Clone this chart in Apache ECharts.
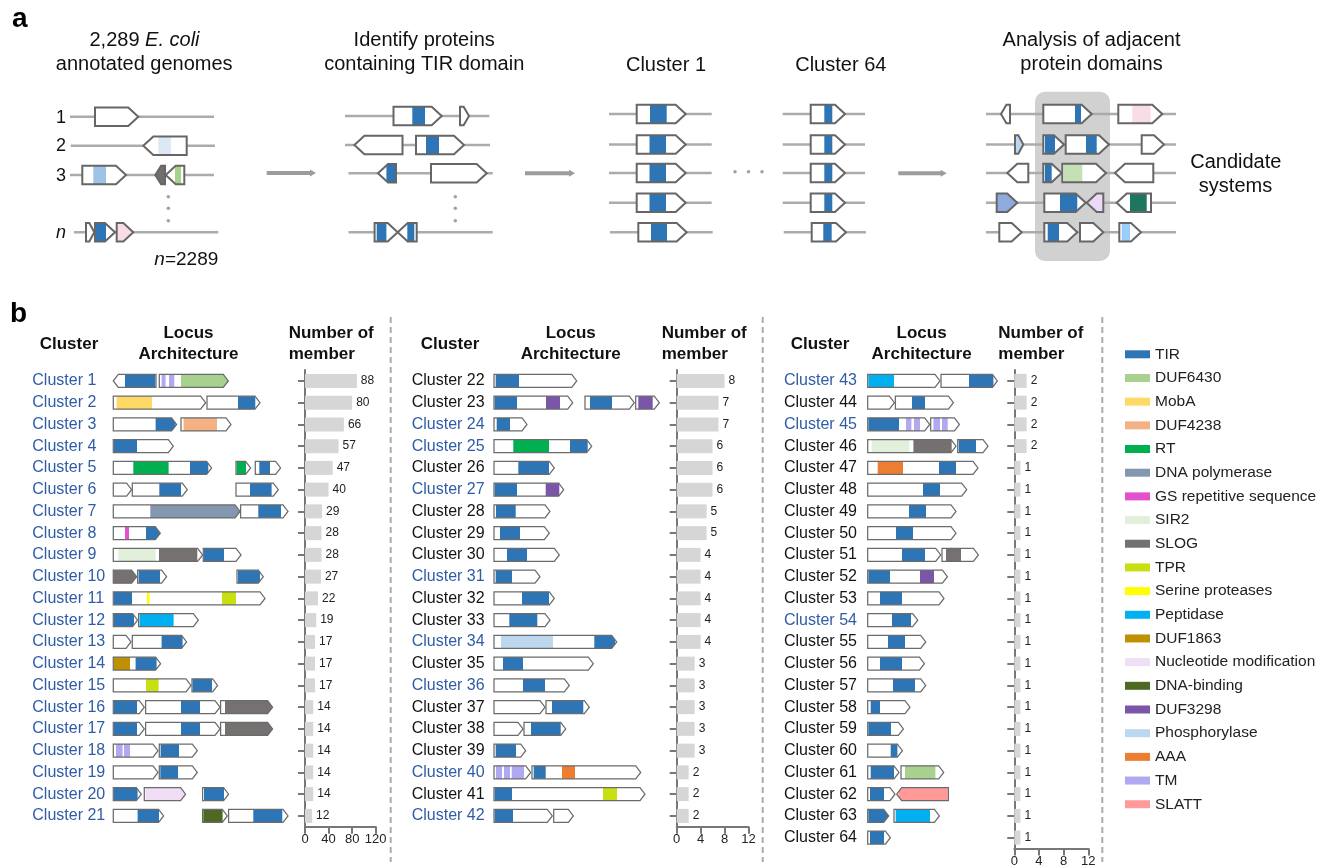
<!DOCTYPE html>
<html><head><meta charset="utf-8">
<script src="https://cdn.jsdelivr.net/npm/echarts@6/dist/echarts.min.js"></script>
<style>html,body{margin:0;padding:0;background:#fff}#c{width:1334px;height:867px}</style>
</head><body><div id="c"></div>
<script>
const FONT = 'Liberation Sans, Arial, Helvetica, sans-serif';
const BLUE = '#2f5ca6';

// ---------------- Panel b data ----------------
const clustersA = ['Cluster 1','Cluster 2','Cluster 3','Cluster 4','Cluster 5','Cluster 6','Cluster 7','Cluster 8','Cluster 9','Cluster 10','Cluster 11','Cluster 12','Cluster 13','Cluster 14','Cluster 15','Cluster 16','Cluster 17','Cluster 18','Cluster 19','Cluster 20','Cluster 21'];
const clustersB = ['Cluster 22','Cluster 23','Cluster 24','Cluster 25','Cluster 26','Cluster 27','Cluster 28','Cluster 29','Cluster 30','Cluster 31','Cluster 32','Cluster 33','Cluster 34','Cluster 35','Cluster 36','Cluster 37','Cluster 38','Cluster 39','Cluster 40','Cluster 41','Cluster 42'];
const clustersC = ['Cluster 43','Cluster 44','Cluster 45','Cluster 46','Cluster 47','Cluster 48','Cluster 49','Cluster 50','Cluster 51','Cluster 52','Cluster 53','Cluster 54','Cluster 55','Cluster 56','Cluster 57','Cluster 58','Cluster 59','Cluster 60','Cluster 61','Cluster 62','Cluster 63','Cluster 64'];

const membersA = [88,80,66,57,47,40,29,28,28,27,22,19,17,17,17,14,14,14,14,14,12];
const membersB = [8,7,7,6,6,6,5,5,4,4,4,4,4,3,3,3,3,3,2,2,2];
const membersC = [2,2,2,2,1,1,1,1,1,1,1,1,1,1,1,1,1,1,1,1,1,1];

const highlighted = ['Cluster 1','Cluster 2','Cluster 3','Cluster 4','Cluster 5','Cluster 6','Cluster 7','Cluster 8','Cluster 9','Cluster 10','Cluster 11','Cluster 12','Cluster 13','Cluster 14','Cluster 15','Cluster 16','Cluster 17','Cluster 18','Cluster 19','Cluster 20','Cluster 21','Cluster 24','Cluster 25','Cluster 27','Cluster 31','Cluster 34','Cluster 36','Cluster 40','Cluster 42','Cluster 43','Cluster 45','Cluster 54'];

const domainTypes = ['TIR','DUF6430','MobA','DUF4238','RT','DNA polymerase','GS repetitive sequence','SIR2','SLOG','TPR','Serine proteases','Peptidase','DUF1863','Nucleotide modification','DNA-binding','DUF3298','Phosphorylase','AAA','TM','SLATT'];
const domainColors = ['#2e75b6','#a9d18e','#ffd966','#f4b183','#00b050','#8497b0','#e24fcf','#e2efda','#767171','#c8e012','#ffff00','#00b0f0','#bf9000','#f0ddf6','#4e6a22','#7b55a8','#bdd7ee','#ed7d31','#b0a8f0','#ff9a98'];

// gene: [start, end, strand, [[domainStart, domainEnd, type], ...]]
const lociA = [
 [[0,42.7,-1,[[11.7,42,'TIR']]],[46,115,1,[[48.3,52.3,'TM'],[55.7,61,'TM'],[67.7,115,'DUF6430']]]],
 [[0,92.3,1,[[3.3,38.7,'MobA']]],[93.7,146.7,1,[[124.7,142,'TIR']]]],
 [[0,63.3,1,[[42.3,62.3,'TIR']]],[67.7,117.7,1,[[70.3,103.7,'DUF4238']]]],
 [[0,60,1,[[0.7,23.7,'TIR']]]],
 [[0,98.3,1,[[20,55.3,'RT'],[76.7,95,'TIR']]],[122.7,137.3,1,[[123.3,132.7,'RT']]],[142,167.3,1,[[146,156.7,'TIR']]]],
 [[0,18.3,1,[]],[19,74,1,[[46,67.7,'TIR']]],[122.7,165,1,[[136.7,158.3,'TIR']]]],
 [[0,126.7,1,[[37,126.7,'DNA polymerase']]],[127.3,174.7,1,[[145,167.7,'TIR']]]],
 [[0,47,1,[[11.7,15.7,'GS repetitive sequence'],[32.7,47,'TIR']]]],
 [[0,89.3,1,[[5,42.3,'SIR2'],[45.7,84,'SLOG']]],[90,127.7,1,[[90.7,110.7,'TIR']]]],
 [[0,23.3,1,[[0.3,23.3,'SLOG']]],[24.3,53.3,1,[[25.3,46.7,'TIR']]],[123.7,150,1,[[124.7,146.7,'TIR']]]],
 [[0,151.7,1,[[0.7,18.7,'TIR'],[33.7,36.3,'Serine proteases'],[108.7,122.7,'TPR']]]],
 [[0,24.3,1,[[0.7,20.7,'TIR']]],[25.3,85,1,[[26.3,60.3,'Peptidase']]]],
 [[0,17.7,1,[]],[19,73.3,1,[[48.3,69.3,'TIR']]]],
 [[0,47.3,1,[[0.7,16.7,'DUF1863'],[22.3,43.3,'TIR']]]],
 [[0,77.7,1,[[32.7,45.3,'TPR']]],[78.7,104.3,1,[[79.3,98.7,'TIR']]]],
 [[0,31,1,[[0.7,23.7,'TIR']]],[32.3,106.7,1,[[67.7,86.7,'TIR']]],[107.3,159.3,1,[[111.7,159.3,'SLOG']]]],
 [[0,31,1,[[0.7,23.7,'TIR']]],[32.3,106.7,1,[[67.7,86.7,'TIR']]],[107.3,159.3,1,[[111.7,159.3,'SLOG']]]],
 [[0,44.7,1,[[2.7,9.3,'TM'],[10.7,16.7,'TM']]],[46,84,1,[[47.3,65.7,'TIR']]]],
 [[0,44.7,1,[]],[46,84,1,[[47,64.7,'TIR']]]],
 [[0,28,1,[[0.7,24.3,'TIR']]],[31,72.3,1,[[32.3,72.3,'Nucleotide modification']]],[89.3,115.3,1,[[90.7,110.7,'TIR']]]],
 [[0,50.3,1,[[24.3,45.7,'TIR']]],[89.3,114,1,[[90,109.3,'DNA-binding']]],[115.3,174.7,1,[[140,169,'TIR']]]]
];
const lociB = [
 [[0,82.7,1,[[1.7,25,'TIR']]]],
 [[0,78.7,1,[[0.7,23,'TIR'],[52,66,'DUF3298']]],[91,140.3,1,[[96,118,'TIR']]],[141.7,165.3,1,[[144.3,158.7,'DUF3298']]]],
 [[0,33,1,[[2.7,16,'TIR']]]],
 [[0,97.7,1,[[19.3,55,'RT'],[76,93.7,'TIR']]]],
 [[0,60.3,1,[[24.3,55,'TIR']]]],
 [[0,69.7,1,[[0.7,23,'TIR'],[51.7,65.3,'DUF3298']]]],
 [[0,56,1,[[2,21.7,'TIR']]]],
 [[0,55.3,1,[[6,26,'TIR']]]],
 [[0,65.3,1,[[13,33,'TIR']]]],
 [[0,46,1,[[1.7,18,'TIR']]]],
 [[0,60.3,1,[[28,55,'TIR']]]],
 [[0,56,1,[[15.3,43.3,'TIR']]]],
 [[0,122.7,1,[[7,59,'Phosphorylase'],[100.3,121,'TIR']]]],
 [[0,99.3,1,[[9,29,'TIR']]]],
 [[0,75.3,1,[[29,51,'TIR']]]],
 [[0,51,1,[]],[52,95.3,1,[[58,89.3,'TIR']]]],
 [[0,29,1,[]],[30,71.7,1,[[37,66.7,'TIR']]]],
 [[0,31.7,1,[[1.7,22,'TIR']]]],
 [[0,36.7,1,[[2,8,'TM'],[10,16,'TM'],[17.7,30,'TM']]],[38,146.7,1,[[39.7,51.7,'TIR'],[68,81,'AAA']]]],
 [[0,151,1,[[0.7,18,'TIR'],[109,123,'TPR']]]],
 [[0,58.3,1,[[0.7,19,'TIR']]],[59.7,79.3,1,[]]]
];
const lociC = [
 [[0,72.3,1,[[0.7,26.3,'Peptidase']]],[73.3,129.7,1,[[101.3,125.7,'TIR']]]],
 [[0,26.7,1,[]],[27.7,85.7,1,[[44.3,57.3,'TIR']]]],
 [[0,62,1,[[0.7,31.3,'TIR'],[38.3,43.7,'TM'],[46.3,52.3,'TM']]],[63,91.7,1,[[65.7,72.3,'TM'],[74.3,80,'TM']]]],
 [[0,88.3,1,[[4,41.7,'SIR2'],[45.7,84,'SLOG']]],[90,120.3,1,[[91,108.3,'TIR']]]],
 [[0,110.3,1,[[10,35.3,'AAA'],[71.3,88.3,'TIR']]]],
 [[0,99,1,[[55.3,72.3,'TIR']]]],
 [[0,88.3,1,[[41.3,58.3,'TIR']]]],
 [[0,88.3,1,[[28.3,45.3,'TIR']]]],
 [[0,73,1,[[34.3,57.3,'TIR']]],[74.3,110.7,1,[[78.3,93.3,'SLOG']]]],
 [[0,79.7,1,[[0.7,22.3,'TIR'],[52.3,66.3,'DUF3298']]]],
 [[0,76.3,1,[[12.3,34.3,'TIR']]]],
 [[0,50,1,[[24.3,43.3,'TIR']]]],
 [[0,58,1,[[20.3,37.3,'TIR']]]],
 [[0,56.7,1,[[12.3,34.3,'TIR']]]],
 [[0,58,1,[[25.3,47.3,'TIR']]]],
 [[0,42.3,1,[[3,12.3,'TIR']]]],
 [[0,35.7,1,[[0.7,23.3,'TIR']]]],
 [[0,34.7,1,[[23,29.7,'TIR']]]],
 [[0,31.3,1,[[3,26.3,'TIR']]],[33.3,76,1,[[37.3,67.7,'DUF6430']]]],
 [[0,27.3,1,[[2.3,16.3,'TIR']]],[29,80.7,-1,[[30.7,80,'SLATT']]]],
 [[0,21,1,[[0.7,20.3,'TIR']]],[26.3,71.7,1,[[28,62.3,'Peptidase']]]],
 [[0,22.7,1,[[2.3,16.3,'TIR']]]]
];

// ---------------- Panel a data ----------------
const panelATracks = [
 [70,214,116.7],[70.7,215,145.7],[70,214,175],[74,218.3,232.3],
 [345,489.3,116],[345,490,145],[348.5,492.7,173.3],[348.5,492.7,232.3],
 [609,711.7,114],[609,711.7,144.5],[609,711.7,173],[609,711.7,202.7],[610,712.7,232.3],
 [782.7,865,114],[782.7,865,144.5],[782.7,865,173],[782.7,865,202.7],[783.7,866,232.3],
 [986,1176,114],[986,1176,144.5],[986,1176,173],[986,1176,202.7],[986,1176,232.3]
];
// [start, end, track, strand, fill, domainStart, domainEnd, domainColor]
const panelAGenes = [
 [95,138.3,116.7,1,null],
 [143.3,186.7,145.7,-1,null,158.3,171,'pale'],
 [82.3,126,175,1,null,93.3,106,'sky'],
 [155.3,165,175,-1,'slog'],
 [165.7,184.3,175,-1,null,175,181,'duf'],
 [86,94.3,232.3,1,null],
 [95,115,232.3,1,null,95.7,106,'tir'],
 [116.7,133.3,232.3,1,null,117.3,133.3,'pink'],
 [393.5,441.7,116,1,null,412.3,425,'tir'],
 [460,469,116,1,null],
 [354.4,402.5,145,-1,null],
 [416,464,145,1,null,426,439,'tir'],
 [378,396,173.3,-1,null,386.4,396,'tir'],
 [431,486.7,173.3,1,null],
 [374.6,397.7,232.3,1,null,376.7,386.4,'tir'],
 [397.7,416.7,232.3,-1,null,407.3,414.3,'tir'],
 [636.7,685.7,114,1,null,650,666.7,'tir'],
 [636.7,685.7,144.5,1,null,649.5,666,'tir'],
 [636.7,685.7,173,1,null,649.5,666,'tir'],
 [636.7,685.7,202.7,1,null,649.5,666,'tir'],
 [638.3,686.7,232.3,1,null,651,667,'tir'],
 [810.7,845,114,1,null,824.3,832.3,'tir'],
 [810.7,845,144.5,1,null,824.3,832.3,'tir'],
 [810.7,845,173,1,null,824.3,832.3,'tir'],
 [810.7,845,202.7,1,null,824.3,832.3,'tir'],
 [811.7,846,232.3,1,null,823.3,831.7,'tir'],
 [1001,1010,114,-1,null],
 [1043.3,1091.7,114,1,null,1075,1081,'tir'],
 [1118.3,1162.3,114,1,null,1132.3,1150.7,'pink'],
 [1015,1023.3,144.5,1,'ltblue'],
 [1043.3,1064,144.5,1,null,1045,1055,'tir'],
 [1065.7,1109,144.5,1,null,1086,1096.7,'tir'],
 [1141.7,1164,144.5,1,null],
 [1007.3,1028.3,173,-1,null],
 [1043.3,1061.7,173,1,null,1045,1051.7,'tir'],
 [1062.3,1106,173,1,null,1064,1082.3,'sir'],
 [1115,1153.3,173,-1,null],
 [996.7,1017.3,202.7,1,'peri'],
 [1044.3,1085.7,202.7,1,null,1060,1077.3,'tir'],
 [1086.7,1103.3,202.7,-1,'lav'],
 [1116.7,1151,202.7,-1,null,1130,1146.7,'teal'],
 [999.3,1021.7,232.3,1,null],
 [1044.3,1077.3,232.3,1,null,1047.7,1059,'tir'],
 [1080,1103.3,232.3,1,null],
 [1119.3,1141,232.3,1,null,1121.7,1130,'azure']
];
const panelAColors = {pale:'#dce9f5', sky:'#9dc3e6', slog:'#6f6f6f', duf:'#a9d18e', pink:'#f9dde5', tir:'#2e75b6', ltblue:'#bdd7ee', sir:'#c5e0b4', peri:'#8faadc', lav:'#ebdaf7', teal:'#1e7560', azure:'#9bcdfb'};
const panelAArrows = [[266.7,316,173],[525,575,173.3],[898.3,946.7,173.3]];
const panelADots = [[168.3,196.7],[168.3,208.3],[168.3,220.7],[455.3,196.7],[455.3,208.3],[455.3,220.7],[735,171.7],[748.5,171.7],[762,171.7]];
const panelABox = [[1035,1110,91.7,261]];

// ---------------- geometry helpers ----------------
function arrowShape(p0, p1, cy, H, head, dir) {
  const h = Math.min(head, (p1 - p0) * 0.6);
  return dir > 0
    ? [[p0, cy - H], [p1 - h, cy - H], [p1, cy], [p1 - h, cy + H], [p0, cy + H]]
    : [[p0, cy], [p0 + h, cy - H], [p1, cy - H], [p1, cy + H], [p0 + h, cy + H]];
}
function domainShape(q0, q1, p0, p1, cy, H, head, dir) {
  q0 = Math.max(q0, p0); q1 = Math.min(q1, p1);
  const h = Math.min(head, (p1 - p0) * 0.6);
  const bk = dir > 0 ? p1 - h : p0 + h;
  const hAt = x => dir > 0 ? (x <= bk ? H : H * (p1 - x) / h) : (x >= bk ? H : H * (x - p0) / h);
  const xs = [q0]; if (bk > q0 && bk < q1) xs.push(bk); xs.push(q1);
  const top = xs.map(x => [x, cy - hAt(x)]);
  const bot = xs.slice().reverse().map(x => [x, cy + hAt(x)]);
  return top.concat(bot);
}

const GH = 6.5, GHEAD = 5;
function columnSeries(loci, k) {
  const ax = k + 1;
  const genes = [];
  loci.forEach((gs, row) => gs.forEach(g => genes.push([g[0], g[1], row, g[2]])));
  const geneRender = (fill) => (p, api) => {
    const g = genes[p.dataIndex];
    const a = api.coord([g[0], g[2]]), b = api.coord([g[1], g[2]]);
    return {type: 'polygon', shape: {points: arrowShape(a[0], b[0], a[1], GH, GHEAD, g[3])},
      style: fill ? {fill: '#fff', stroke: null} : {fill: null, stroke: '#6b6b6b', lineWidth: 1.25}};
  };
  const out = [];
  out.push({type: 'custom', name: 'genes' + k, xAxisIndex: ax, yAxisIndex: ax, z: 2, silent: true,
    data: genes, encode: {x: [0, 1], y: 2}, renderItem: geneRender(true)});
  domainTypes.forEach((t, ti) => {
    const items = [];
    loci.forEach((gs, row) => gs.forEach(g => g[3].forEach(d => {
      if (d[2] === t) items.push([d[0], d[1], row, g[0], g[1], g[2]]);
    })));
    if (!items.length) return;
    out.push({type: 'custom', name: t, xAxisIndex: ax, yAxisIndex: ax, z: 3, silent: true,
      itemStyle: {color: domainColors[ti]}, data: items, encode: {x: [0, 1], y: 2},
      renderItem: (p, api) => {
        const d = items[p.dataIndex];
        const q0 = api.coord([d[0], d[2]]), q1 = api.coord([d[1], d[2]]);
        const g0 = api.coord([d[3], d[2]]), g1 = api.coord([d[4], d[2]]);
        return {type: 'polygon', shape: {points: domainShape(q0[0], q1[0], g0[0], g1[0], q0[1], GH, GHEAD, d[5])},
          style: {fill: domainColors[ti]}};
      }});
  });
  out.push({type: 'custom', name: 'outline' + k, xAxisIndex: ax, yAxisIndex: ax, z: 4, silent: true,
    data: genes, encode: {x: [0, 1], y: 2}, renderItem: geneRender(false)});
  return out;
}

// ---------------- layout ----------------
const ROW = 21.75, TOP = 370;
const archGrids = [
  {left: 113.3, width: 180, rows: clustersA.length, cats: clustersA, margin: 81},
  {left: 494, width: 180, rows: clustersB.length, cats: clustersB, margin: 82.3},
  {left: 867.7, width: 140, rows: clustersC.length, cats: clustersC, margin: 83.7}
];
const barGrids = [
  {left: 305, width: 70.7, max: 120, interval: 40, cats: clustersA, vals: membersA},
  {left: 676.7, width: 71.7, max: 12, interval: 4, cats: clustersB, vals: membersB},
  {left: 1014.3, width: 74, max: 12, interval: 4, cats: clustersC, vals: membersC}
];

const grids = [{left: 0, top: 0, width: 1334, height: 280, outerBoundsMode: 'none'}];
const xAxes = [{gridIndex: 0, type: 'value', min: 0, max: 1334, show: false}];
const yAxes = [{gridIndex: 0, type: 'value', min: 0, max: 280, inverse: true, show: false}];
archGrids.forEach((g, i) => {
  grids.push({left: g.left, top: TOP, width: g.width, height: g.rows * ROW, outerBoundsMode: 'none'});
  xAxes.push({gridIndex: i + 1, type: 'value', min: 0, max: g.width, show: false});
  yAxes.push({gridIndex: i + 1, type: 'category', data: g.cats, inverse: true,
    axisLine: {show: false}, axisTick: {show: false}, splitLine: {show: false},
    axisLabel: {show: true, align: 'left', margin: g.margin, fontSize: 16, fontFamily: FONT,
      color: (v) => highlighted.indexOf(v) >= 0 ? BLUE : '#141414'}});
});
const AXC = '#777';
barGrids.forEach((g, i) => {
  grids.push({left: g.left, top: TOP, width: g.width, height: g.cats.length * ROW, outerBoundsMode: 'none'});
  xAxes.push({gridIndex: i + 4, type: 'value', min: 0, max: g.max, interval: g.interval,
    axisLine: {show: true, lineStyle: {color: AXC, width: 2}},
    axisTick: {show: true, length: 7, lineStyle: {color: AXC, width: 2}},
    axisLabel: {fontSize: 13, color: '#222', fontFamily: FONT, margin: 6},
    splitLine: {show: false}});
  yAxes.push({gridIndex: i + 4, type: 'category', data: g.cats, inverse: true,
    axisLine: {show: true, lineStyle: {color: AXC, width: 2}},
    axisTick: {show: true, alignWithLabel: true, length: 7, lineStyle: {color: AXC, width: 2}},
    axisLabel: {show: true, formatter: () => ''}, splitLine: {show: false}});
});

const series = [];
// panel a
series.push({type: 'custom', name: 'box', xAxisIndex: 0, yAxisIndex: 0, z: 1, silent: true, data: panelABox,
  renderItem: (p, api) => {
    const b = panelABox[p.dataIndex];
    const a0 = api.coord([b[0], b[2]]), a1 = api.coord([b[1], b[3]]);
    return {type: 'rect', shape: {x: a0[0], y: a0[1], width: a1[0] - a0[0], height: a1[1] - a0[1], r: 10}, style: {fill: '#d2d1d1'}};
  }});
series.push({type: 'custom', name: 'tracks', xAxisIndex: 0, yAxisIndex: 0, z: 2, silent: true, data: panelATracks,
  renderItem: (p, api) => {
    const t = panelATracks[p.dataIndex];
    const a = api.coord([t[0], t[2]]), b = api.coord([t[1], t[2]]);
    return {type: 'line', shape: {x1: a[0], y1: a[1], x2: b[0], y2: b[1]}, style: {stroke: '#ababab', lineWidth: 2.5}};
  }});
series.push({type: 'custom', name: 'flow', xAxisIndex: 0, yAxisIndex: 0, z: 2, silent: true, data: panelAArrows,
  renderItem: (p, api) => {
    const t = panelAArrows[p.dataIndex];
    const a = api.coord([t[0], t[2]]), b = api.coord([t[1], t[2]]);
    return {type: 'group', children: [
      {type: 'line', shape: {x1: a[0], y1: a[1], x2: b[0] - 4, y2: b[1]}, style: {stroke: '#9c9c9c', lineWidth: 4}},
      {type: 'polygon', shape: {points: [[b[0] - 6, b[1] - 3.5], [b[0], b[1]], [b[0] - 6, b[1] + 3.5]]}, style: {fill: '#9c9c9c'}}
    ]};
  }});
series.push({type: 'custom', name: 'genesA', xAxisIndex: 0, yAxisIndex: 0, z: 3, silent: true, data: panelAGenes.map(g => [g[0], g[1], g[2]]),
  renderItem: (p, api) => {
    const g = panelAGenes[p.dataIndex];
    const a = api.coord([g[0], g[2]]), b = api.coord([g[1], g[2]]);
    const H = 9.2, HEAD = 10;
    const kids = [{type: 'polygon', shape: {points: arrowShape(a[0], b[0], a[1], H, HEAD, g[3])},
      style: {fill: g[4] ? panelAColors[g[4]] : '#fff'}}];
    if (g[5] != null) {
      const q0 = api.coord([g[5], g[2]]), q1 = api.coord([g[6], g[2]]);
      kids.push({type: 'polygon', shape: {points: domainShape(q0[0], q1[0], a[0], b[0], a[1], H, HEAD, g[3])},
        style: {fill: panelAColors[g[7]]}});
    }
    kids.push({type: 'polygon', shape: {points: arrowShape(a[0], b[0], a[1], H, HEAD, g[3])},
      style: {fill: null, stroke: '#666', lineWidth: 2}});
    return {type: 'group', children: kids};
  }});
series.push({type: 'scatter', name: 'dots', xAxisIndex: 0, yAxisIndex: 0, silent: true, data: panelADots,
  symbolSize: 3.5, itemStyle: {color: '#8a8a8a'}});

// panel b
series.push(...columnSeries(lociA, 0), ...columnSeries(lociB, 1), ...columnSeries(lociC, 2));
barGrids.forEach((g, i) => {
  series.push({type: 'bar', name: 'members' + i, xAxisIndex: i + 4, yAxisIndex: i + 4, data: g.vals,
    barWidth: 14, silent: true, itemStyle: {color: '#d6d6d6'},
    label: {show: true, position: 'right', distance: 4, fontSize: 12, color: '#222', fontFamily: FONT}});
});

// ---------------- text ----------------
function txt(text, x, y, size, opt) {
  opt = opt || {};
  return {type: 'text', x: x, y: y, silent: true, style: Object.assign({
    text: text, fontSize: size, fontFamily: FONT, fill: opt.fill || '#111',
    fontWeight: opt.bold ? 'bold' : 'normal', fontStyle: opt.italic ? 'italic' : 'normal',
    textAlign: opt.align || 'center', textVerticalAlign: 'middle',
    align: opt.align || 'center', verticalAlign: 'middle'}, opt.rich ? {rich: opt.rich} : {})};
}
const ital = {i: {fontStyle: 'italic', fontSize: 20, fontFamily: FONT, fill: '#111'}};
const graphics = [
  txt('a', 12, 19, 28, {bold: true, align: 'left', fill: '#000'}),
  txt('2,289 {i|E. coli}', 144.5, 40, 20, {rich: ital}),
  txt('annotated genomes', 144.2, 64, 20),
  txt('Identify proteins', 424.2, 40, 20),
  txt('containing TIR domain', 424.2, 64, 20),
  txt('Cluster 1', 666, 65, 20),
  txt('Cluster 64', 840.8, 65, 20),
  txt('Analysis of adjacent', 1091.5, 40, 20),
  txt('protein domains', 1091.5, 64, 20),
  txt('Candidate', 1235.8, 162, 20),
  txt('systems', 1235.5, 186, 20),
  txt('1', 61, 117.7, 18), txt('2', 61, 146, 18), txt('3', 61, 175.7, 18),
  txt('n', 61, 233, 18, {italic: true}),
  txt('{j|n}=2289', 186.3, 260, 19, {rich: {j: {fontStyle: 'italic', fontSize: 19, fontFamily: FONT, fill: '#111'}}}),
  txt('b', 10, 314, 28, {bold: true, align: 'left', fill: '#000'})
];
[[69, 188.5, 288.7], [450, 570.7, 661.7], [820, 921.6, 998.3]].forEach(c => {
  graphics.push(txt('Cluster', c[0], 344, 17, {bold: true}));
  graphics.push(txt('Locus', c[1], 333.3, 17, {bold: true}));
  graphics.push(txt('Architecture', c[1], 354, 17, {bold: true}));
  graphics.push(txt('Number of', c[2], 333.3, 17, {bold: true, align: 'left'}));
  graphics.push(txt('member', c[2], 354, 17, {bold: true, align: 'left'}));
});
[390.7, 762.7, 1102.3].forEach(x => graphics.push({type: 'line', silent: true,
  shape: {x1: x, y1: 317, x2: x, y2: 862}, style: {stroke: '#ababab', lineWidth: 2, lineDash: [6, 4]}}));

const chart = echarts.init(document.getElementById('c'), null, {renderer: 'canvas'});
chart.setOption({
  animation: false,
  backgroundColor: '#fff',
  textStyle: {fontFamily: FONT},
  grid: grids, xAxis: xAxes, yAxis: yAxes,
  legend: {data: domainTypes, orient: 'vertical', left: 1120, top: 341.3, padding: 5, icon: 'rect',
    itemWidth: 25, itemHeight: 8, itemGap: 7.68, selectedMode: false,
    textStyle: {fontSize: 15.5, color: '#222', fontFamily: FONT, lineHeight: 16}},
  tooltip: {show: false},
  series: series,
  graphic: graphics
});
</script></body></html>
